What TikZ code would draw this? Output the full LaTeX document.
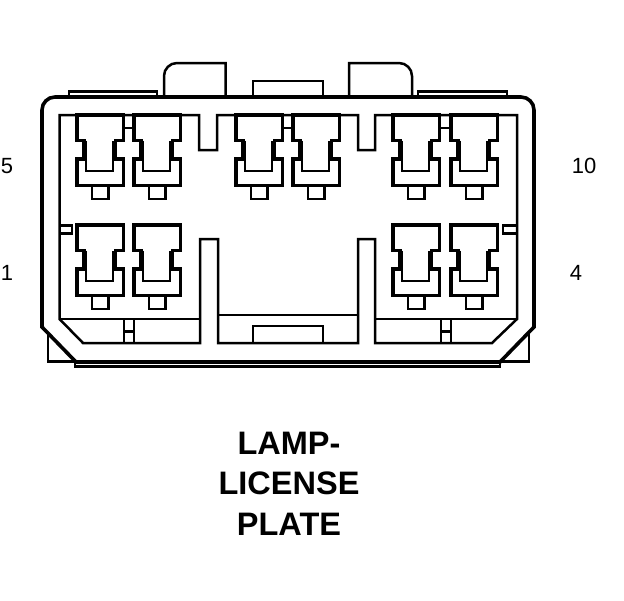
\documentclass[tikz,border=0pt]{standalone}
\usepackage{fontspec}
\setmainfont{Liberation Sans}
\usetikzlibrary{calc,positioning}
\tikzset{
	shell/.style = {line width=3.6pt, line join=miter},
	wall/.style = {line width=2.5pt, line join=miter},
	blade/.style = {line width=3.6pt, line join=miter},
	pin/.style = {font=\fontsize{22}{22}\selectfont},
	caption/.style = {font=\bfseries\fontsize{32.5}{32.5}\selectfont}
}
% one terminal, #1 = left edge, #2 = top edge
\newcommand{\terminal}[2]{
	\draw[blade] (#1+2,#2+1.5) -- (#1+48.5,#2+1.5) -- (#1+48.5,#2+27) -- (#1+40.5,#2+27) -- (#1+40.5,#2+45.5) -- (#1+48.5,#2+45.5) -- (#1+48.5,#2+72) -- (#1+2,#2+72) -- (#1+2,#2+45.5) -- (#1+9,#2+45.5) -- (#1+9,#2+27) -- (#1+2,#2+27) -- cycle;
	\draw[wall] (#1+11,#2+27) -- (#1+11,#2+57.5) -- (#1+38.2,#2+57.5) -- (#1+38.2,#2+27);
	\draw[wall] (#1+17,#2+72) -- (#1+17,#2+85.5) -- (#1+33.5,#2+85.5) -- (#1+33.5,#2+72);
}
\begin{document}
\begin{tikzpicture}[x=1pt,y=-1pt]
		\useasboundingbox (0,0) rectangle (624,600);
		% outer shell
		\draw[shell] (42,327) -- (42,110) arc [start angle=180, end angle=270, radius=13] -- (521,97) arc [start angle=270, end angle=360, radius=13] -- (534,327) -- (500,362) -- (76,362) -- cycle;
		\draw[wall] (75,362) -- (75,366.5) -- (500,366.5) -- (500,362);
		\draw[wall] (48,334) -- (48,361.5) -- (75,361.5);
		\draw[wall] (529,334) -- (529,361.5) -- (500,361.5);
		% tabs on top
		\draw[wall] (69,96) -- (69,91.5) -- (157,91.5) -- (157,96);
		\draw[wall] (418,96) -- (418,91.5) -- (507,91.5) -- (507,96);
		\draw[wall] (253,96) -- (253,81) -- (323,81) -- (323,96);
		\draw[wall] (164,96) -- (164,76) arc [start angle=180, end angle=270, radius=13] -- (225.5,63) -- (225.5,96);
		\draw[wall] (349,96) -- (349,63) -- (399,63) arc [start angle=270, end angle=360, radius=13] -- (412,96);
		% inner wall
		\draw[wall] (59.5,319) -- (59.5,115) -- (199,115) -- (199,150) -- (217,150) -- (217,115) -- (358,115) -- (358,150) -- (375,150) -- (375,115) -- (517,115) -- (517,319) -- (492,343) -- (375,343) -- (375,239) -- (358,239) -- (358,343) -- (218,343) -- (218,239) -- (200,239) -- (200,343) -- (83,343) -- cycle;
		\draw[wall] (59.5,319) -- (200,319);
		\draw[wall] (375,319) -- (517,319);
		\draw[wall] (218,315) -- (358,315);
		\draw[wall] (253,343) -- (253,326) -- (323,326) -- (323,343);
		% latches
		\draw[wall] (59.5,225.5) -- (72,225.5) -- (72,233.5) -- (59.5,233.5);
		\draw[wall] (517,225.5) -- (503,225.5) -- (503,233.5) -- (517,233.5);
		\foreach \x in {124,441}{
			\draw[wall] (\x,319) -- (\x,343);
			\draw[wall] (\x+10,319) -- (\x+10,343);
			\draw[wall] (\x,331.5) -- (\x+10,331.5);
		}
		% terminals
		\foreach \x in {75,132,234,291,391,449}{
			\terminal{\x}{113.6}
		}
		\foreach \x in {75,132,391,449}{
			\terminal{\x}{223.6}
		}
		\foreach \x in {125,284,441}{
			\draw[wall] (\x,128) -- (\x+8,128);
		}
		% labels
		\node[pin] (five) at (7,166) {5};
		\node[pin] (one) at (7,273) {1};
		\node[pin] (ten) at (584,166) {10};
		\node[pin] (four) at (576,273) {4};
		\node[caption] (lamp) at (289,443) {LAMP-};
		\node[caption] (license) at (289,483) {LICENSE};
		\node[caption] (plate) at (289,524) {PLATE};
	\end{tikzpicture}
\end{document}
